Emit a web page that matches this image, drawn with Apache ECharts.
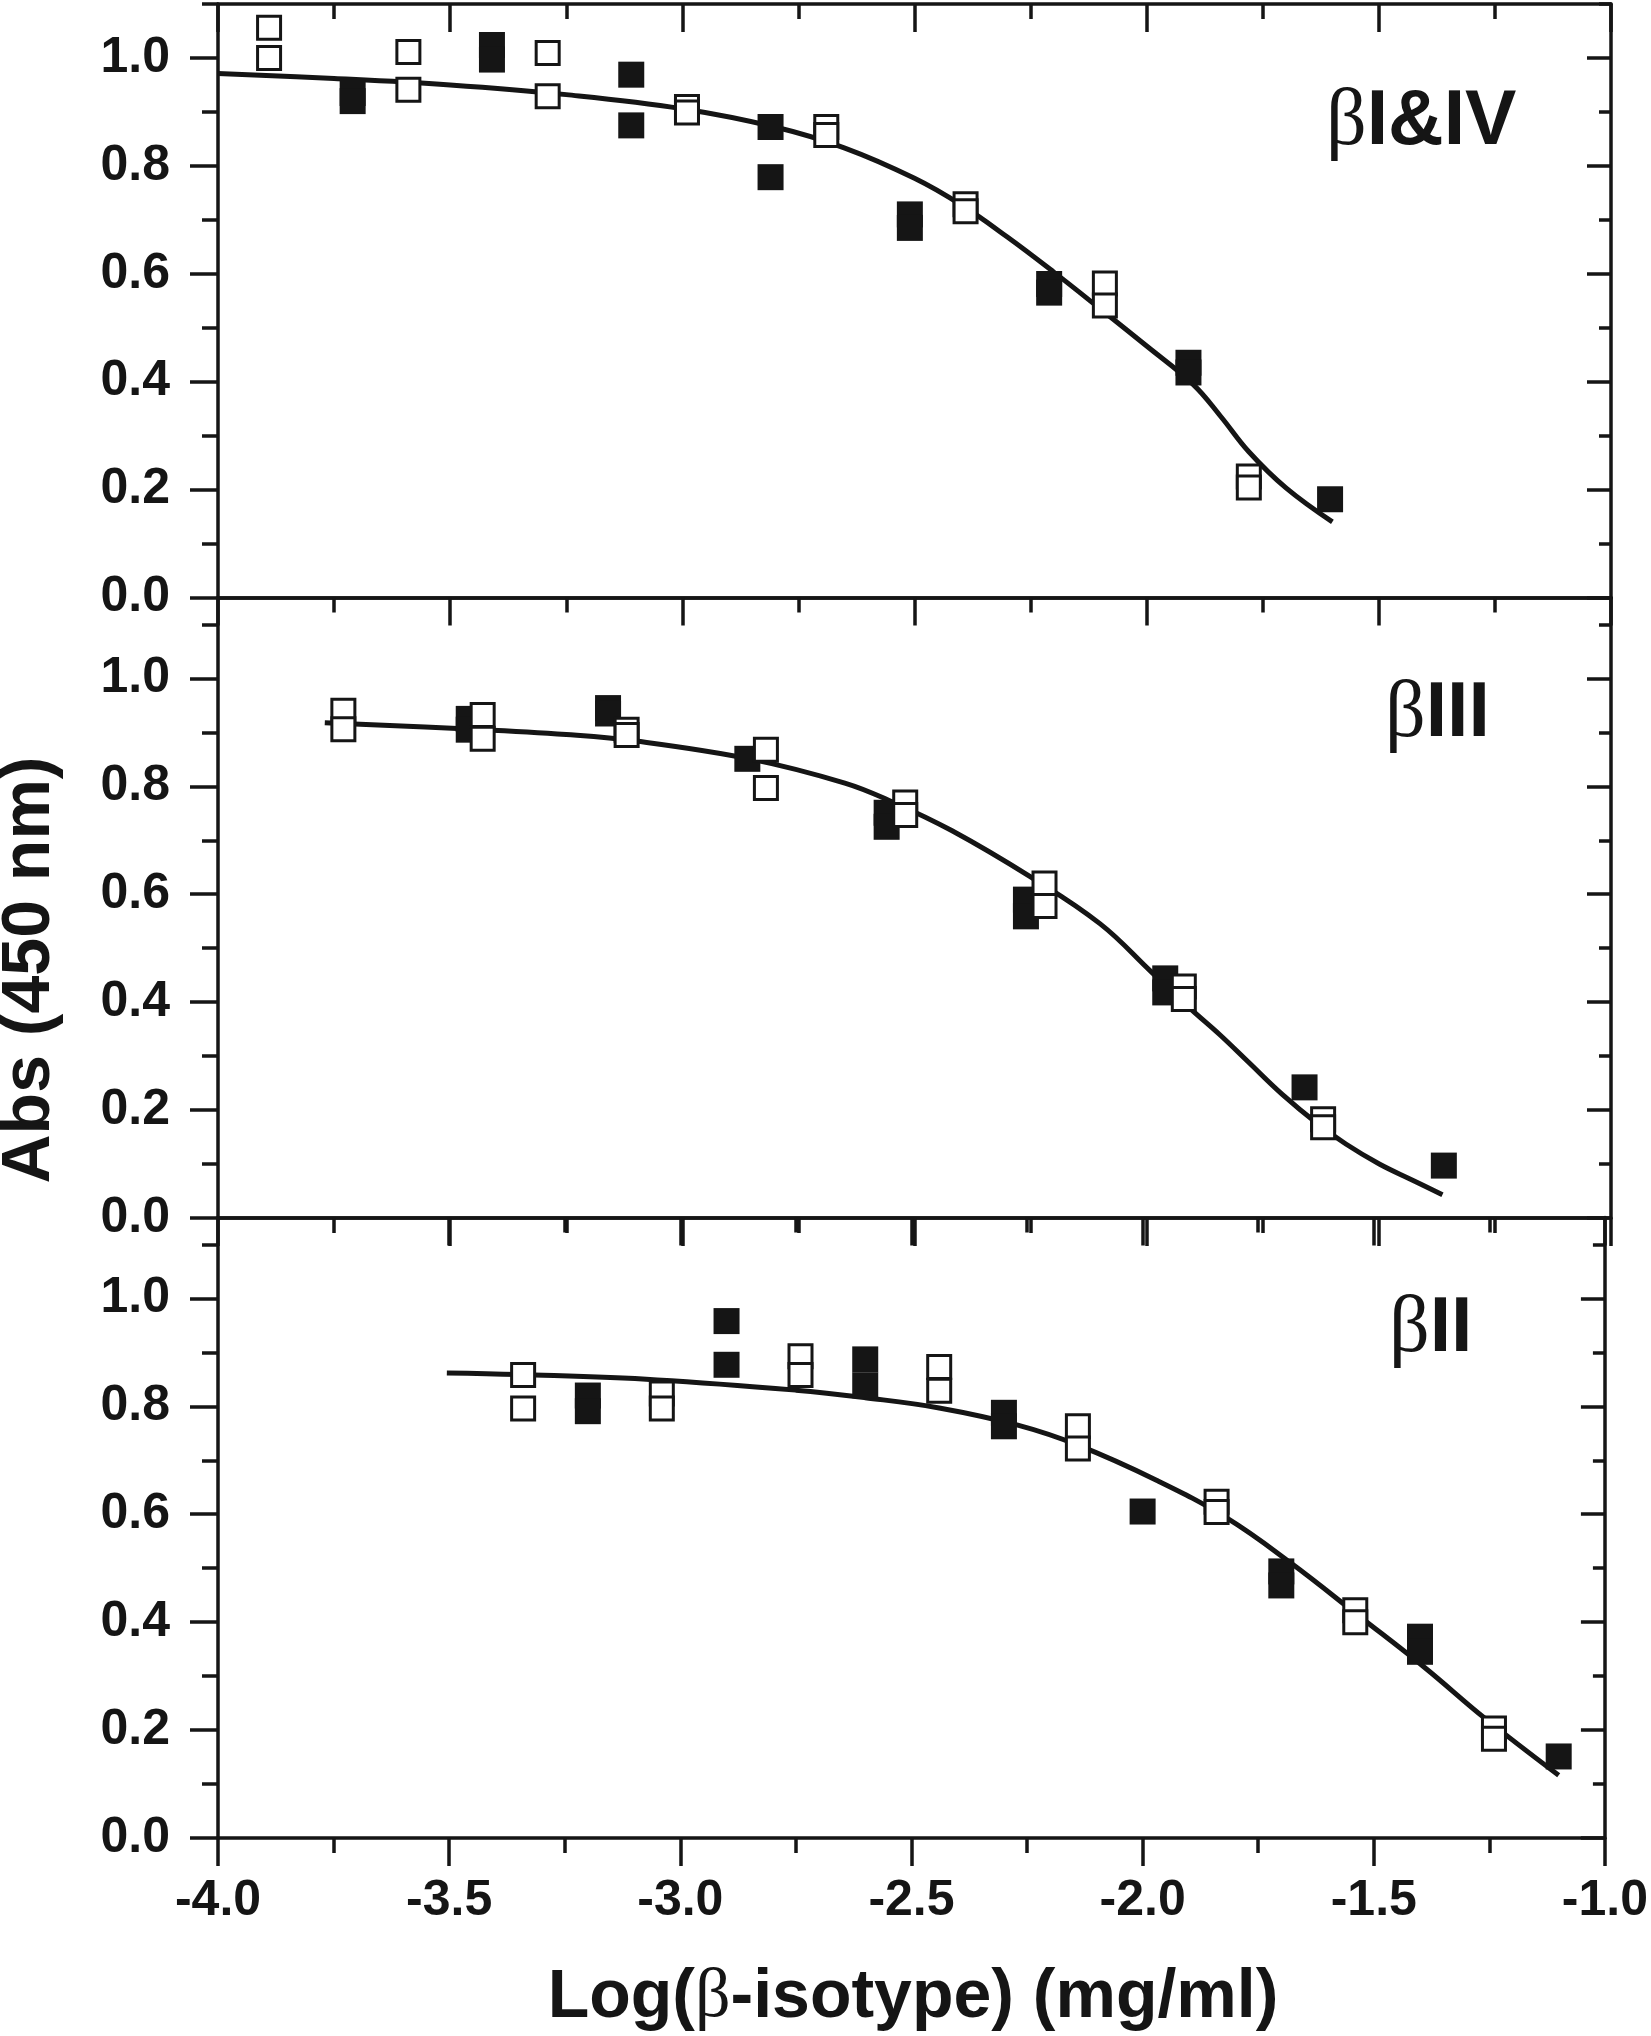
<!DOCTYPE html>
<html><head><meta charset="utf-8">
<script src="https://cdn.jsdelivr.net/npm/echarts@6/dist/echarts.min.js"></script>
<style>html,body{margin:0;padding:0;background:#fff}#c{width:1651px;height:2036px}</style>
</head><body><div id="c"></div>
<script>
// ---- data ----
const xMin = -4.0, xMax = -1.0, xStep = 0.5;
const yMajorTicks = [0, 0.2, 0.4, 0.6, 0.8, 1.0];
const yMinorTicks = [0.1, 0.3, 0.5, 0.7, 0.9, 1.1];
const panelYMax = [1.1, 1.15, 1.15];
const panelNames = ['I&IV', 'III', 'II'];
const xAxisTitle = ['Log(', 'β', '-isotype) (mg/ml)'];
const yAxisTitle = 'Abs (450 nm)';

// panel 1: beta I & IV
const p1Filled = [[-3.71,0.935],[-3.71,0.920],[-3.41,1.024],[-3.41,0.997],[-3.11,0.969],[-3.11,0.875],
  [-2.81,0.872],[-2.81,0.779],[-2.51,0.710],[-2.51,0.685],[-2.21,0.581],[-2.21,0.565],
  [-1.91,0.435],[-1.91,0.417],[-1.605,0.182]];
const p1Open = [[-3.89,1.056],[-3.89,1.000],[-3.59,1.011],[-3.59,0.941],[-3.29,1.009],[-3.29,0.929],
  [-2.99,0.909],[-2.99,0.899],[-2.69,0.872],[-2.69,0.857],[-2.39,0.729],[-2.39,0.716],
  [-2.09,0.582],[-2.09,0.541],[-1.78,0.224],[-1.78,0.204]];
const p1Fit = [[-4.00,0.971],[-3.75,0.962],[-3.50,0.950],[-3.25,0.932],[-3.00,0.906],[-2.80,0.872],
  [-2.65,0.833],[-2.50,0.777],[-2.40,0.728],[-2.30,0.668],[-2.20,0.603],[-2.10,0.535],
  [-2.00,0.466],[-1.90,0.395],[-1.84,0.335],[-1.78,0.270],[-1.70,0.203],[-1.60,0.140]];

// panel 2: beta III
const p2Filled = [[-3.46,0.925],[-3.46,0.905],[-3.16,0.945],[-3.16,0.935],[-2.86,0.851],
  [-2.56,0.751],[-2.56,0.725],[-2.26,0.590],[-2.26,0.559],[-1.96,0.444],[-1.96,0.418],
  [-1.66,0.242],[-1.36,0.097]];
const p2Open = [[-3.73,0.940],[-3.73,0.906],[-3.43,0.932],[-3.43,0.888],[-3.12,0.905],[-3.12,0.895],
  [-2.82,0.868],[-2.82,0.797],[-2.52,0.770],[-2.52,0.747],[-2.22,0.620],[-2.22,0.578],
  [-1.92,0.429],[-1.92,0.406],[-1.62,0.183],[-1.62,0.168]];
const p2Fit = [[-3.77,0.918],[-3.45,0.906],[-3.25,0.896],[-3.10,0.884],[-2.85,0.850],[-2.65,0.806],
  [-2.55,0.772],[-2.42,0.718],[-2.25,0.632],[-2.10,0.545],[-1.99,0.456],[-1.906,0.388],
  [-1.843,0.340],[-1.781,0.289],[-1.708,0.229],[-1.634,0.176],[-1.571,0.137],[-1.499,0.100],
  [-1.425,0.069],[-1.363,0.043]];

// panel 3: beta II
const p3Filled = [[-3.20,0.820],[-3.20,0.791],[-2.90,0.958],[-2.90,0.877],[-2.60,0.887],[-2.60,0.839],
  [-2.30,0.788],[-2.30,0.763],[-2.00,0.605],[-1.70,0.494],[-1.70,0.468],[-1.40,0.373],
  [-1.40,0.345],[-1.10,0.151]];
const p3Open = [[-3.34,0.858],[-3.34,0.796],[-3.04,0.824],[-3.04,0.796],[-2.74,0.893],[-2.74,0.858],
  [-2.44,0.873],[-2.44,0.829],[-2.14,0.763],[-2.14,0.722],[-1.84,0.623],[-1.84,0.604],
  [-1.54,0.422],[-1.54,0.400],[-1.24,0.203],[-1.24,0.184]];
const p3Fit = [[-3.505,0.862],[-3.35,0.859],[-3.05,0.849],[-2.75,0.830],[-2.60,0.816],[-2.44,0.797],
  [-2.27,0.765],[-2.14,0.728],[-1.97,0.663],[-1.82,0.594],[-1.68,0.510],[-1.53,0.410],
  [-1.39,0.316],[-1.26,0.222],[-1.10,0.116]];

const panels = [
  {filled: p1Filled, open: p1Open, fit: p1Fit},
  {filled: p2Filled, open: p2Open, fit: p2Fit},
  {filled: p3Filled, open: p3Open, fit: p3Fit}
];

// ---- styling / layout ----
const INK = '#151515';
const SANS = 'Liberation Sans, Arial, sans-serif';
const SERIF = 'Liberation Serif, DejaVu Serif, serif';
const pxPerUnit = 539.5;
const gridTops = [4, 597.5, 1217.5];
const ls = {color: INK, width: 3.5};
const tickFont = {fontSize: 50, fontWeight: 'bold', fontFamily: SANS, color: INK};

const grids = [], xAxes = [], yAxes = [], series = [];
panels.forEach((p, i) => {
  grids.push({left: 218, right: 40, top: gridTops[i], height: panelYMax[i] * pxPerUnit, containLabel: false});
  const xBase = {gridIndex: i, type: 'value', min: xMin, max: xMax, interval: xStep,
    splitLine: {show: false}, minorSplitLine: {show: false},
    axisLine: {show: true, onZero: false, lineStyle: ls}};
  xAxes.push(Object.assign({}, xBase, {position: 'bottom',
    axisTick: {show: true, inside: false, length: 28, lineStyle: ls},
    minorTick: {show: true, splitNumber: 2, length: 15, lineStyle: ls},
    axisLabel: Object.assign({show: i === 2, margin: 38, formatter: v => v.toFixed(1)}, tickFont)}));
  xAxes.push(Object.assign({}, xBase, {position: 'top',
    axisTick: {show: true, inside: true, length: 28, lineStyle: ls},
    minorTick: {show: true, splitNumber: 2, length: 15, lineStyle: ls},
    axisLabel: {show: false}}));
  const minors = yMinorTicks.filter(v => v <= panelYMax[i] + 1e-9);
  const yBase = {gridIndex: i, type: 'value', min: 0, max: panelYMax[i],
    splitLine: {show: false}, minorTick: {show: false}, minorSplitLine: {show: false}};
  yAxes.push(Object.assign({}, yBase, {position: 'left',
    axisLine: {show: true, onZero: false, lineStyle: ls},
    axisTick: {show: true, inside: false, length: 28, lineStyle: ls, customValues: yMajorTicks},
    axisLabel: Object.assign({show: true, margin: 48, customValues: yMajorTicks,
      formatter: v => Number(v).toFixed(1)}, tickFont)}));
  yAxes.push(Object.assign({}, yBase, {position: 'left',
    axisLine: {show: false},
    axisTick: {show: true, inside: false, length: 16, lineStyle: ls, customValues: minors},
    axisLabel: {show: false}}));
  yAxes.push(Object.assign({}, yBase, {position: 'right',
    axisLine: {show: true, onZero: false, lineStyle: ls},
    axisTick: {show: true, inside: true, length: 24, lineStyle: ls, customValues: yMajorTicks},
    axisLabel: {show: false}}));
  yAxes.push(Object.assign({}, yBase, {position: 'right',
    axisLine: {show: false},
    axisTick: {show: true, inside: true, length: 12, lineStyle: ls, customValues: minors},
    axisLabel: {show: false}}));

  const xi = 2 * i, yi = 4 * i;
  series.push({type: 'line', xAxisIndex: xi, yAxisIndex: yi, data: p.fit, smooth: 0.4,
    showSymbol: false, symbol: 'none', lineStyle: {color: INK, width: 5}, z: 2, silent: true});
  series.push({type: 'scatter', xAxisIndex: xi, yAxisIndex: yi, data: p.filled, symbol: 'rect',
    symbolSize: 26, itemStyle: {color: INK, opacity: 1}, z: 3, silent: true});
  series.push({type: 'scatter', xAxisIndex: xi, yAxisIndex: yi, data: p.open, symbol: 'rect',
    symbolSize: 23, itemStyle: {color: '#ffffff', borderColor: INK, borderWidth: 3, opacity: 1}, z: 4, silent: true});
});

const labelRich = {
  b: {fontFamily: SERIF, fontWeight: 'normal', fontSize: 80, fill: INK, color: INK},
  t: {fontFamily: SANS, fontWeight: 'bold', fontSize: 77, fill: INK, color: INK}
};
const labelPos = [[1326, 123], [1385, 715], [1389, 1330]];
const graphics = panelNames.map((n, i) => ({
  type: 'text', x: labelPos[i][0], y: labelPos[i][1], z: 10, silent: true,
  style: {text: '{b|β}{t|' + n + '}', rich: labelRich, fill: INK,
    align: 'left', verticalAlign: 'middle', textAlign: 'left', textVerticalAlign: 'middle'}
}));
graphics.push({
  type: 'text', x: 913, y: 1998, z: 10, silent: true,
  style: {text: '{t|' + xAxisTitle[0] + '}{b|' + xAxisTitle[1] + '}{t|' + xAxisTitle[2] + '}',
    rich: {
      b: {fontFamily: SERIF, fontWeight: 'normal', fontSize: 70, fill: INK, color: INK},
      t: {fontFamily: SANS, fontWeight: 'bold', fontSize: 68, fill: INK, color: INK}
    }, fill: INK,
    align: 'center', verticalAlign: 'middle', textAlign: 'center', textVerticalAlign: 'middle'}
});
graphics.push({
  type: 'text', x: 30, y: 970, rotation: Math.PI / 2, z: 10, silent: true,
  style: {text: yAxisTitle, font: 'bold 68px ' + SANS, fontSize: 68, fontWeight: 'bold', fontFamily: SANS,
    fill: INK, align: 'center', verticalAlign: 'middle', textAlign: 'center', textVerticalAlign: 'middle'}
});

const chart = echarts.init(document.getElementById('c'), null, {renderer: 'canvas'});
chart.setOption({
  animation: false,
  backgroundColor: '#ffffff',
  grid: grids, xAxis: xAxes, yAxis: yAxes, series: series, graphic: graphics
});
</script></body></html>
